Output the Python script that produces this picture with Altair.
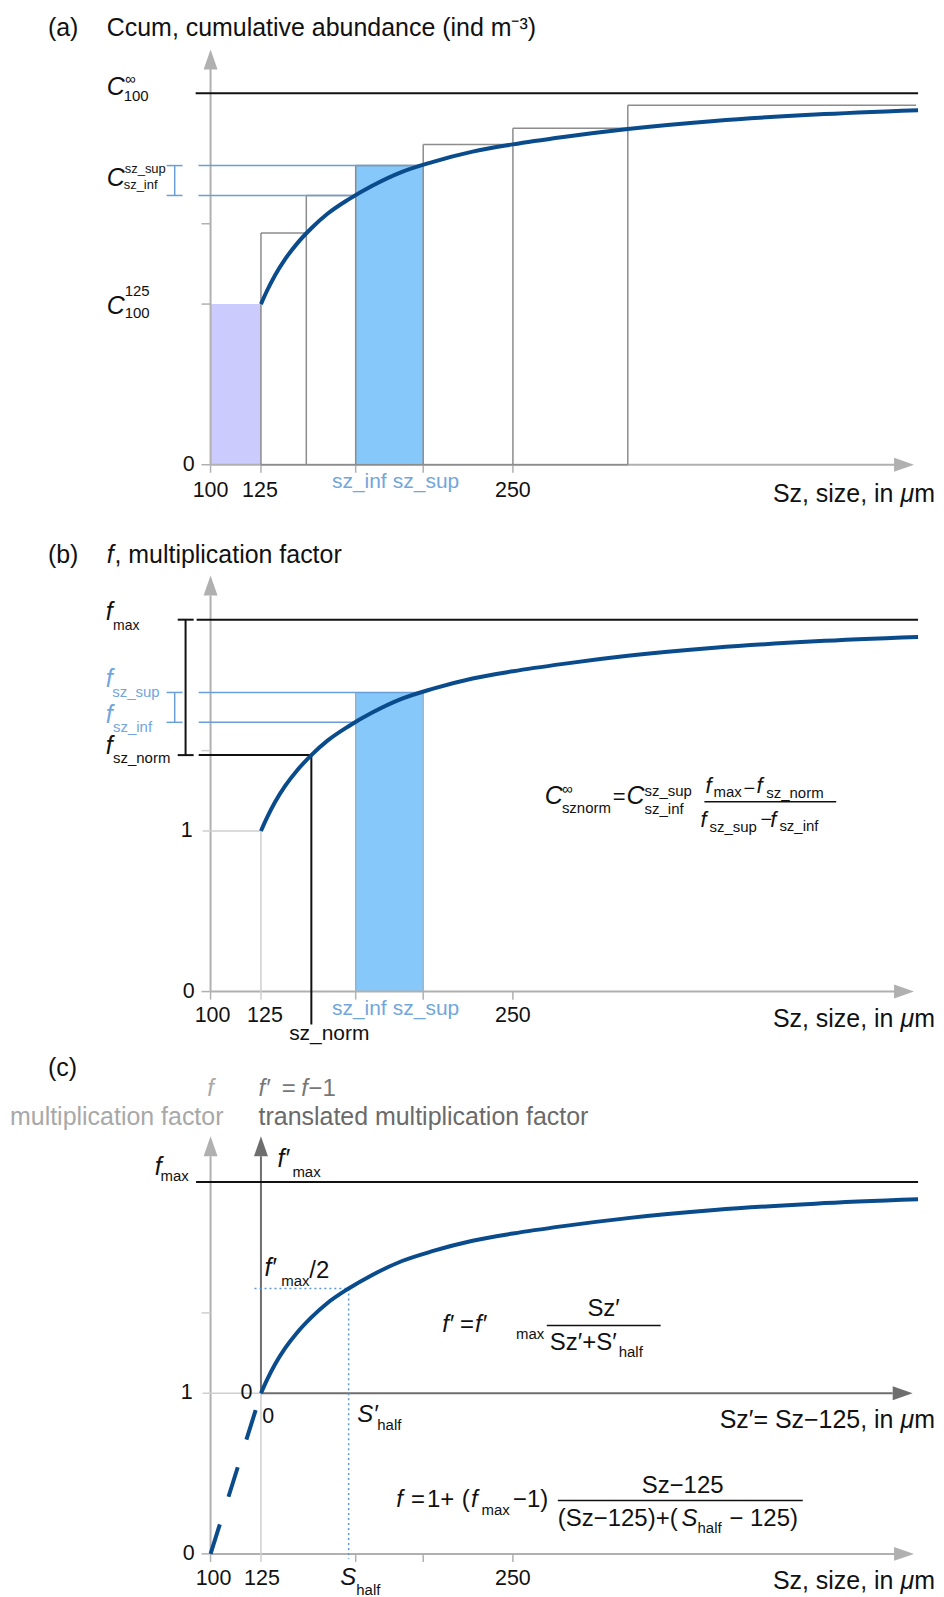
import altair as alt
import pandas as pd

# ---------------- data (schematic values) ----------------
sz_curve = [125, 128, 132, 137, 143, 150, 158, 168.5, 180, 195, 210, 230, 250, 275, 307, 350, 400, 451]
f_curve = [1.000, 1.083, 1.180, 1.280, 1.378, 1.472, 1.562, 1.652, 1.735, 1.823, 1.884, 1.949,
           1.994, 2.040, 2.090, 2.140, 2.180, 2.207]
ccum_curve = list(f_curve)          # Ccum expressed in units of C100^125 (same schematic curve)
bin_edges = [100, 125, 147.5, 172, 205.5, 250, 307, 450]
bin_tops = [1.0, 1.442, 1.676, 1.862, 1.994, 2.095, 2.237]
c_inf = 2.313
f_max = 2.315
sz_inf, sz_sup, sz_norm, s_half = 172, 205.5, 150, 168.5
f_sz_inf, f_sz_sup, f_sz_norm, f_half = 1.676, 1.862, 1.472, 1.652
dash_sz = [100, 125]
dash_f = [0.0, 1.0]
x_tick_vals = [100, 125, 250]
x_tick_labels = ["100", "125", "250"]
x_minor_ticks = [100, 172, 205.5, 250]
y_minor = 1.5

# ---------------- styling / layout ----------------
FONT = "Liberation Sans"
BLACK = "#111111"
CURVE = "#0a4b8c"
BLUE = "#6a9ed6"
BLUE_T = "#72a6dc"
FILL_BLUE = "#86c8fa"
LAVENDER = "#cbcbfd"
AX = "#b0b0b0"
AX_LIGHT = "#cfcfcf"
DARK = "#6e6e6e"
BOX = "#8c8c8c"
DOT = "#5a9ad8"
TS = 25      # title size
LS = 21.5    # tick label size

XS = dict(domain=[100, 250], range=[203, 506], nice=False, zero=False)
BASE = {"a": 456, "b": 984, "c": 1547.5}
UNIT = 161


def xs():
    return alt.Scale(**XS)


def ys(p):
    return alt.Scale(domain=[0, 1], range=[BASE[p], BASE[p] - UNIT], nice=False, zero=False)


layers = []


def segs(p, rows, color, width, dash=None):
    df = pd.DataFrame(rows, columns=["x", "y", "x2", "y2"])
    kw = dict(color=color, strokeWidth=width)
    if dash:
        kw["strokeDash"] = dash
    layers.append(alt.Chart(df).mark_rule(**kw).encode(
        x=alt.X("x:Q", scale=xs(), axis=None),
        y=alt.Y("y:Q", scale=ys(p), axis=None),
        x2="x2:Q", y2="y2:Q"))


def rects(p, rows, fill):
    df = pd.DataFrame(rows, columns=["x", "x2", "y", "y2"])
    layers.append(alt.Chart(df).mark_rect(color=fill, opacity=1).encode(
        x=alt.X("x:Q", scale=xs(), axis=None),
        y=alt.Y("y:Q", scale=ys(p), axis=None),
        x2="x2:Q", y2="y2:Q"))


UP = "M0,0L-0.7,2L0.7,2Z"
RIGHT = "M0,0L-2,-0.7L-2,0.7Z"


def arrow(p, x, y, shape, color):
    df = pd.DataFrame({"x": [x], "y": [y]})
    layers.append(alt.Chart(df).mark_point(shape=shape, size=400, filled=True, color=color,
                                           opacity=1, strokeWidth=0).encode(
        x=alt.X("x:Q", scale=xs(), axis=None),
        y=alt.Y("y:Q", scale=ys(p), axis=None)))


def curve(p, sx, sy, dash=None):
    df = pd.DataFrame({"x": sx, "y": sy})
    kw = dict(color=CURVE, strokeWidth=4, interpolate="monotone", strokeCap="butt")
    if dash:
        kw["strokeDash"] = dash
    layers.append(alt.Chart(df).mark_line(**kw).encode(
        x=alt.X("x:Q", scale=xs(), axis=None),
        y=alt.Y("y:Q", scale=ys(p), axis=None)))


def T(x, y, t, s=LS, c=BLACK, it=False, al="left", bl="middle"):
    return (x, y, t, s, c, it, al, bl)


def unit_label(y, first):
    # "<first> μm" right-aligned at the right edge, with an italic μ
    return [T(459.4, y, "m", TS, al="right"),
            T(449.1, y, "μ", TS, it=True, al="right"),
            T(438.8, y, first, TS, al="right")]


def add_texts(p, rows):
    df = pd.DataFrame(rows, columns=["x", "y", "t", "s", "c", "it", "al", "bl"])
    for (it, al, bl), g in df.groupby(["it", "al", "bl"]):
        layers.append(alt.Chart(g[["x", "y", "t", "s", "c"]].reset_index(drop=True)).mark_text(
            font=FONT, fontStyle="italic" if it else "normal", align=al, baseline=bl).encode(
            x=alt.X("x:Q", scale=xs(), axis=None),
            y=alt.Y("y:Q", scale=ys(p), axis=None),
            text=alt.Text("t:N"),
            size=alt.Size("s:Q", scale=None, legend=None),
            color=alt.Color("c:N", scale=None, legend=None)))


# ======================= panel (a) =======================
p = "a"
rects(p, [(bin_edges[0], bin_edges[1], 0, bin_tops[0])], LAVENDER)
rects(p, [(sz_inf, sz_sup, 0, f_sz_sup)], FILL_BLUE)
segs(p, [(100, 0, 100, 2.47), (100, 0, 440, 0)], AX, 2)
segs(p, [(x, 0, x, -0.05) for x in [100, 125, sz_inf, sz_sup, 250]]
     + [(95.5, y, 100, y) for y in [0, 1, y_minor]], AX, 1.5)
tops = [(bin_edges[i], bin_tops[i], bin_edges[i + 1], bin_tops[i]) for i in range(1, len(bin_tops))]
verts = [(bin_edges[j], 0, bin_edges[j], bin_tops[j]) for j in range(1, len(bin_tops))]
segs(p, tops + verts + [(125, 0, 307, 0)], BOX, 1.5)
segs(p, [(92.6, c_inf, 451, c_inf)], BLACK, 2)
segs(p, [(94, f_sz_sup, sz_sup, f_sz_sup), (94, f_sz_inf, sz_inf, f_sz_inf),
         (82.2, f_sz_inf, 82.2, f_sz_sup), (78.2, f_sz_sup, 86.1, f_sz_sup),
         (78.2, f_sz_inf, 86.1, f_sz_inf)], BLUE, 1.5)
curve(p, sz_curve, ccum_curve)
arrow(p, 100, 2.584, UP, AX)
arrow(p, 449, 0, RIGHT, AX)
add_texts(p, [
    T(19.3, 2.717, "(a)", TS),
    T(48.5, 2.717, "Ccum, cumulative abundance (ind m⁻³)", TS),
    T(48.5, 2.348, "C", 25, it=True), T(57.6, 2.40, "∞", 15), T(56.9, 2.292, "100", 15),
    T(48.5, 1.785, "C", 25, it=True), T(57.4, 1.843, "sz_sup", 13), T(56.9, 1.743, "sz_inf", 13),
    T(48.5, 0.990, "C", 25, it=True), T(57.4, 1.081, "125", 15), T(57.4, 0.944, "100", 15),
    T(92.1, 0, "0", LS, al="right"),
    T(100, -0.161, x_tick_labels[0], LS, al="center"),
    T(124.5, -0.161, x_tick_labels[1], LS, al="center"),
    T(250, -0.161, x_tick_labels[2], LS, al="center"),
    T(173.8, -0.106, "sz_inf", 21, BLUE_T, al="center"),
    T(206.9, -0.106, "sz_sup", 21, BLUE_T, al="center"),
] + unit_label(-0.180, "Sz, size, in"))

# ======================= panel (b) =======================
p = "b"
rects(p, [(sz_inf, sz_sup, 0, f_sz_sup)], FILL_BLUE)
segs(p, [(sz_inf, 0, sz_inf, f_sz_sup), (sz_sup, 0, sz_sup, f_sz_sup)], "#9aa8b4", 1.2)
segs(p, [(100, 0, 100, 2.466), (100, 0, 440, 0)], AX, 2)
segs(p, [(x, 0, x, -0.05) for x in x_minor_ticks] + [(95.5, 0, 100, 0)], AX, 1.5)
segs(p, [(95.5, y_minor, 100, y_minor), (96, 1, 125, 1), (125, -0.05, 125, 1)], AX_LIGHT, 1.5)
segs(p, [(93.1, f_max, 451, f_max), (87.6, f_sz_norm, 87.6, f_max),
         (83.7, f_max, 91.6, f_max), (83.7, f_sz_norm, 91.6, f_sz_norm),
         (94.1, f_sz_norm, sz_norm, f_sz_norm), (sz_norm, f_sz_norm, sz_norm, -0.205)], BLACK, 2)
segs(p, [(94.1, f_sz_sup, sz_sup, f_sz_sup), (94.1, f_sz_inf, sz_inf, f_sz_inf),
         (82.2, f_sz_inf, 82.2, f_sz_sup), (78.2, f_sz_sup, 86.1, f_sz_sup),
         (78.2, f_sz_inf, 86.1, f_sz_inf)], BLUE, 1.5)
curve(p, sz_curve, f_curve)
arrow(p, 100, 2.590, UP, AX)
arrow(p, 449, 0, RIGHT, AX)
segs(p, [(345, 1.182, 410.4, 1.182)], BLACK, 1.5)
add_texts(p, [
    T(19.3, 2.720, "(b)", TS),
    T(48.5, 2.720, "f", TS, it=True), T(52.3, 2.720, ", multiplication factor", TS),
    T(48.0, 2.311, "f", 25, it=True, bl="alphabetic"), T(51.6, 2.275, "max", 14),
    T(48.0, 1.894, "f", 25, BLUE_T, it=True, bl="alphabetic"), T(51.2, 1.865, "sz_sup", 15, BLUE_T),
    T(48.0, 1.671, "f", 25, BLUE_T, it=True, bl="alphabetic"), T(51.6, 1.648, "sz_inf", 15, BLUE_T),
    T(48.0, 1.478, "f", 25, it=True, bl="alphabetic"), T(51.6, 1.453, "sz_norm", 15),
    T(91.1, 1, "1", LS, al="right"), T(92.1, 0, "0", LS, al="right"),
    T(101, -0.155, x_tick_labels[0], LS, al="center"),
    T(127, -0.155, x_tick_labels[1], LS, al="center"),
    T(250, -0.155, x_tick_labels[2], LS, al="center"),
    T(173.8, -0.106, "sz_inf", 21, BLUE_T, al="center"),
    T(206.9, -0.106, "sz_sup", 21, BLUE_T, al="center"),
    T(158.9, -0.267, "sz_norm", 21, al="center"),
    # formula
    T(265.8, 1.217, "C", 25, it=True), T(274.3, 1.261, "∞", 15), T(274.3, 1.143, "sznorm", 15),
    T(299.5, 1.211, "=", 22),
    T(306.4, 1.217, "C", 25, it=True), T(315.3, 1.248, "sz_sup", 15), T(315.3, 1.137, "sz_inf", 15),
    T(345.5, 1.236, "f", 22, it=True, bl="alphabetic"), T(349.5, 1.244, "max", 15),
    T(364.4, 1.261, "−", 20), T(370.8, 1.236, "f", 22, it=True, bl="alphabetic"),
    T(375.7, 1.238, "sz_norm", 15),
    T(343.1, 1.025, "f", 22, it=True, bl="alphabetic"), T(347.5, 1.027, "sz_sup", 15),
    T(372.8, 1.068, "−", 20), T(377.7, 1.025, "f", 22, it=True, bl="alphabetic"),
    T(382.2, 1.033, "sz_inf", 15),
] + unit_label(-0.168, "Sz, size, in"))

# ======================= panel (c) =======================
p = "c"
segs(p, [(100, 0, 100, 2.475), (100, 0, 440, 0)], AX, 2)
segs(p, [(x, 0, x, -0.05) for x in x_minor_ticks] + [(95.5, 0, 100, 0)], AX, 1.5)
segs(p, [(95.5, y_minor, 100, y_minor), (96, 1, 125, 1), (125, -0.05, 125, 1)], AX_LIGHT, 1.5)
segs(p, [(125, 1, 125, 2.475), (125, 1, 438.4, 1)], DARK, 2)
segs(p, [(92.8, f_max, 451, f_max)], BLACK, 2)
segs(p, [(121.8, f_half, s_half, f_half), (s_half, f_half, s_half, -0.03)], DOT, 1.5, [2, 3])
curve(p, dash_sz, dash_f, dash=[31, 29])
curve(p, sz_curve, f_curve)
arrow(p, 100, 2.599, UP, AX)
arrow(p, 125, 2.599, UP, DARK)
arrow(p, 449, 0, RIGHT, AX)
arrow(p, 448.3, 1, RIGHT, DARK)
segs(p, [(266.8, 1.421, 323.3, 1.421), (272.3, 0.332, 393.8, 0.332)], BLACK, 1.5)
add_texts(p, [
    T(19.3, 3.022, "(c)", TS),
    T(100, 2.891, "f", 24, "#aaaaaa", it=True, al="center"),
    T(106.4, 2.717, "multiplication factor", TS, "#a8a8a8", al="right"),
    T(123.8, 2.891, "f′", 24, "#777777", it=True), T(135.3, 2.891, "=", 24, "#777777"),
    T(145.0, 2.891, "f", 24, "#777777", it=True), T(148.6, 2.891, "−1", 24, "#777777"),
    T(123.8, 2.717, "translated multiplication factor", TS, "#6a6a6a"),
    T(72.3, 2.357, "f", 25, it=True, bl="alphabetic"), T(75.2, 2.351, "max", 15),
    T(133.2, 2.407, "f′", 25, it=True, bl="alphabetic"), T(140.6, 2.376, "max", 15),
    T(126.7, 1.730, "f′", 25, it=True, bl="alphabetic"), T(135.1, 1.699, "max", 15),
    T(149.0, 1.717, "/2", 24, bl="alphabetic"),
    T(214.9, 1.382, "f′", 24, it=True, bl="alphabetic"), T(223.8, 1.382, "=", 24, bl="alphabetic"),
    T(231.2, 1.382, "f′", 24, it=True, bl="alphabetic"), T(251.5, 1.370, "max", 15),
    T(295.0, 1.522, "Sz′", 24, al="center"),
    T(268.3, 1.314, "Sz′+S′", 24), T(302.5, 1.258, "half", 15),
    T(120.8, 1, "0", LS, al="right"), T(125.7, 0.854, "0", LS),
    T(91.1, 1, "1", LS, al="right"), T(92.1, 0, "0", LS, al="right"),
    T(172.8, 0.823, "S′", 24, it=True, bl="alphabetic"), T(182.7, 0.804, "half", 15),
    T(192.1, 0.289, "f", 24, it=True, bl="alphabetic"),
    T(199.5, 0.289, "=", 24, bl="alphabetic"), T(207.4, 0.289, "1", 24, bl="alphabetic"),
    T(213.9, 0.289, "+", 24, bl="alphabetic"), T(224.6, 0.289, "(", 24, bl="alphabetic"),
    T(229.2, 0.289, "f", 24, it=True, bl="alphabetic"), T(234.4, 0.276, "max", 15),
    T(250.0, 0.289, "−1)", 24, bl="alphabetic"),
    T(334.2, 0.425, "Sz−125", 24, al="center"),
    T(272.3, 0.217, "(Sz−125)+(", 24), T(333.7, 0.217, "S", 24, it=True),
    T(341.6, 0.161, "half", 15), T(357.4, 0.217, "− 125)", 24),
    T(101.5, -0.155, x_tick_labels[0], LS, al="center"),
    T(125.5, -0.155, x_tick_labels[1], LS, al="center"),
    T(250, -0.155, x_tick_labels[2], LS, al="center"),
    T(164.4, -0.196, "S", 24, it=True, bl="alphabetic"), T(172.3, -0.227, "half", 15),
] + unit_label(0.832, "Sz′= Sz−125, in") + unit_label(-0.171, "Sz, size, in"))

chart = alt.layer(*layers).resolve_scale(y="independent").properties(
    width=930, height=1589, padding=0,
    autosize=alt.AutoSizeParams(type="none"),
).configure_view(stroke=None)

chart.save("out.html", embed_options={"renderer": "svg", "actions": False})
